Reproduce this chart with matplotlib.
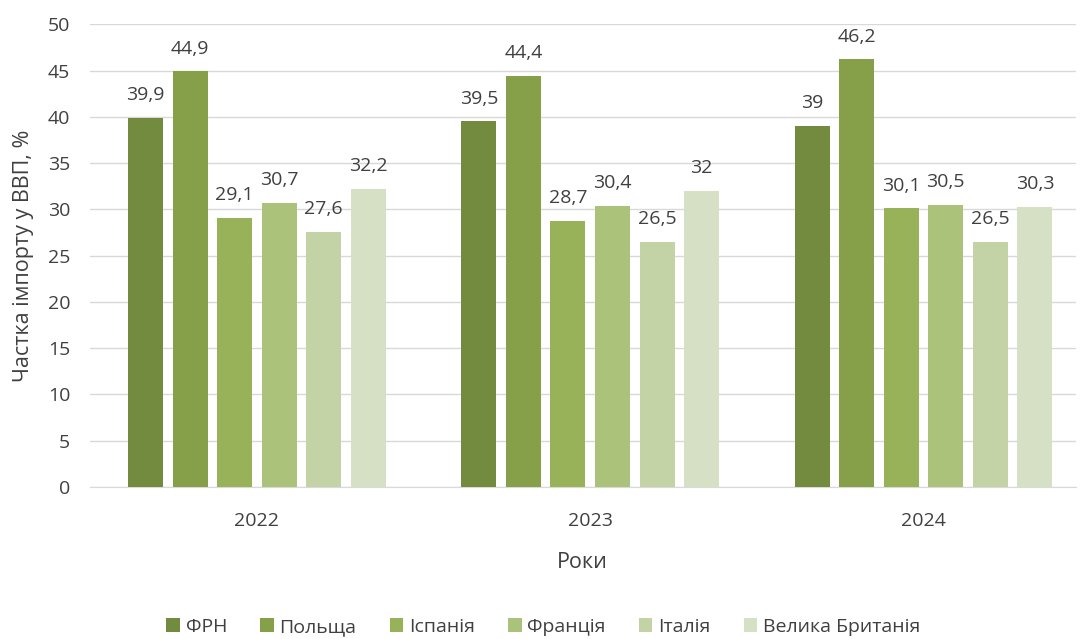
import numpy as np
import matplotlib.pyplot as plt

plt.rcParams['font.family'] = ['Open Sans', 'DejaVu Sans']

# дані
years = ['2022', '2023', '2024']
countries = ['ФРН', 'Польща', 'Іспанія', 'Франція', 'Італія', 'Велика Британія']
frn = [39.9, 39.5, 39]
poland = [44.9, 44.4, 46.2]
spain = [29.1, 28.7, 30.1]
france = [30.7, 30.4, 30.5]
italy = [27.6, 26.5, 26.5]
uk = [32.2, 32, 30.3]
colors = ['#738b3f', '#86a04a', '#97b259', '#aac27a', '#c3d3a5', '#d6e0c4']

series = [frn, poland, spain, france, italy, uk]

fig = plt.figure(figsize=(10.82, 6.39), dpi=100)
ax = fig.add_axes([0.083, 0.238, 0.911, 0.724])

x = np.arange(len(years))
step = 0.1336
width = 0.105
text_color = '#404040'

for i, (vals, name, c) in enumerate(zip(series, countries, colors)):
    pos = x + (i - 2.5) * step
    bars = ax.bar(pos, vals, width=width, color=c, label=name, zorder=3)
    for b, v in zip(bars, vals):
        lbl = ('%g' % v).replace('.', ',')
        ax.annotate(lbl, (b.get_x() + b.get_width() / 2, v), xytext=(0, 10),
                    textcoords='offset points', ha='center', va='bottom',
                    fontsize=14, color=text_color)

ax.set_xlim(-0.5015, 2.456)
ax.set_ylim(0, 50)
ax.set_yticks(range(0, 51, 5))
ax.set_xticks(x)
ax.set_xticklabels(years)
ax.yaxis.grid(True, color='#d9d9d9', linewidth=1, zorder=0)
for s in ['top', 'right', 'left']:
    ax.spines[s].set_visible(False)
ax.spines['bottom'].set_color('#d9d9d9')
ax.tick_params(axis='both', length=0, labelsize=14, colors=text_color)
ax.tick_params(axis='x', pad=18)
ax.tick_params(axis='y', pad=14)

ax.set_xlabel('Роки', fontsize=15.5, color=text_color, labelpad=16)
ax.set_ylabel('Частка імпорту у ВВП, %', fontsize=15.5, color=text_color, labelpad=10)

ax.legend(loc='lower center', bbox_to_anchor=(0.46, -0.36), ncol=6, frameon=False,
          fontsize=14, handlelength=0.7, handleheight=0.7, handletextpad=0.3,
          columnspacing=1.7, labelcolor=text_color)

fig.savefig('out.png', dpi=100)
